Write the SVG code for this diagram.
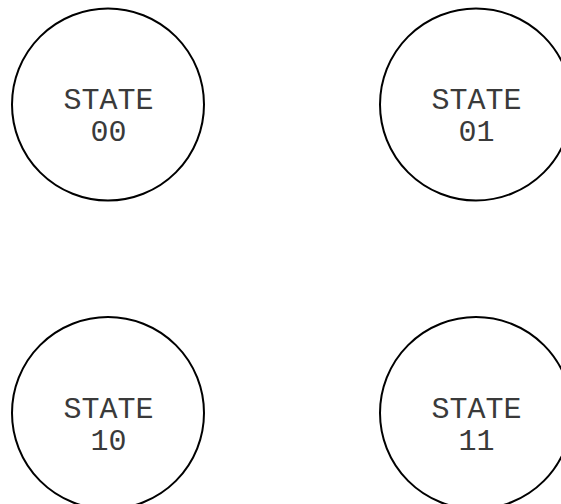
<svg xmlns="http://www.w3.org/2000/svg" width="561" height="504" viewBox="0 0 561 504">
<style>
.st{fill:#fff;stroke:#000;stroke-width:2}
.lb{font-family:"Liberation Mono","DejaVu Sans Mono",monospace;font-size:30px;fill:#3a3a3a;text-anchor:middle}
</style>
<rect width="561" height="504" fill="#fff"/>
<g id="connectors"></g>
<g id="state00">
<circle class="st" cx="108" cy="104.5" r="96"/>
<text class="lb" x="108.5" y="109">STATE</text>
<text class="lb" x="108.5" y="141">00</text>
</g>
<g id="state01">
<circle class="st" cx="476" cy="104.5" r="96"/>
<text class="lb" x="476.5" y="109">STATE</text>
<text class="lb" x="476.5" y="141">01</text>
</g>
<g id="state10">
<circle class="st" cx="108" cy="413" r="96"/>
<text class="lb" x="108.5" y="418">STATE</text>
<text class="lb" x="108.5" y="450">10</text>
</g>
<g id="state11">
<circle class="st" cx="476" cy="413" r="96"/>
<text class="lb" x="476.5" y="418">STATE</text>
<text class="lb" x="476.5" y="450">11</text>
</g>
</svg>
